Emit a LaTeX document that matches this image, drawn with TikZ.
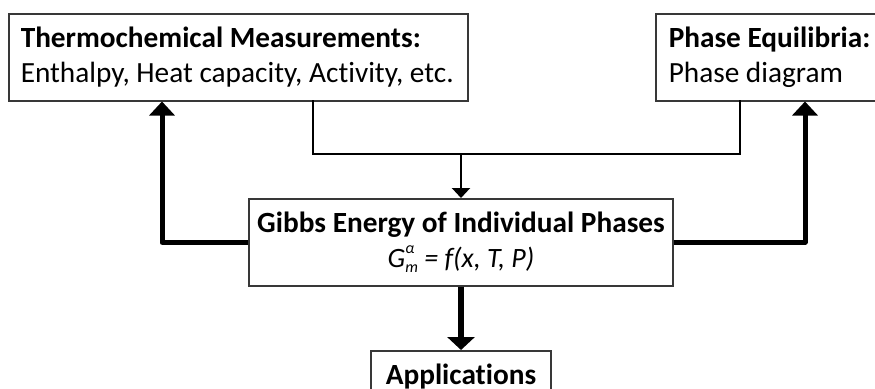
\documentclass[tikz,border=0pt]{standalone}
\usepackage{fontspec}
\setmainfont{Carlito}[Ligatures=NoCommon]
\usetikzlibrary{arrows.meta}

\tikzset{
  box/.style={draw=black!78, line width=1.5pt, fill=white, inner ysep=0pt,
    font=\fontsize{29.3}{35}\selectfont},
  sourcebox/.style={box, anchor=north west, minimum height=87pt,
    align=flush left},
  thinline/.style={line width=2.2pt, line cap=rect},
  thinarrow/.style={line width=2.2pt, -{Triangle[width=18pt,length=10pt]}},
  heavyarrow/.style={line width=5pt, line join=round,
    -{Triangle[width=25pt,length=14pt]}},
}

\newcommand{\gsym}{G\rlap{\raisebox{0.5em}{\fontsize{16}{16}\selectfont α}}\raisebox{-0.2em}{\fontsize{16}{16}\selectfont m}}

\begin{document}
\begin{tikzpicture}[x=1pt, y=-1pt]
  \useasboundingbox (0,0) rectangle (875,388);
  \clip (0,0) rectangle (875,388);

  % source boxes
  \node[sourcebox, minimum width=459pt, inner xsep=12pt, text width=435pt]
    (thermo) at (8,13)
    {\textbf{Thermochemical Measurements:}\\Enthalpy, Heat capacity, Activity, etc.};
  \node[sourcebox, minimum width=245pt, inner xsep=13pt, text width=219pt]
    (phase) at (655,13)
    {\textbf{Phase Equilibria:}\\Phase diagram};

  % central model box
  \node[box, anchor=north, minimum width=424pt, minimum height=87pt,
        align=center] (gibbs) at (461,198)
    {\textbf{Gibbs Energy of Individual Phases}\\
     {\fontsize{28}{35}\selectfont\itshape \gsym{} = f(x, T, P)}};

  % use box
  \node[box, anchor=north, minimum width=180pt, minimum height=52pt,
        align=center] (apps) at (461,350) {\textbf{Applications}};

  % guide coordinates for the connectors
  \coordinate (tdrop) at (313,0);
  \coordinate (pdrop) at (740,0);
  \coordinate (lrise) at (162,0);
  \coordinate (rrise) at (805,0);
  \coordinate (merge) at (461,154);

  % data from experiments merged into the model
  \draw[thinline] (thermo.south -| tdrop) |- (gibbs.north |- merge) -| (phase.south -| pdrop);
  \draw[thinarrow] (gibbs.north |- merge) -- (gibbs.north);

  % predictions from the model back to the measurements
  \draw[heavyarrow] (gibbs.west) -| (thermo.south -| lrise);
  \draw[heavyarrow] (gibbs.east) -| (phase.south -| rrise);

  % model to applications
  \draw[heavyarrow, line width=5.5pt, -{Triangle[width=27pt,length=13pt]}] (gibbs.south) -- (apps.north);
\end{tikzpicture}
\end{document}
